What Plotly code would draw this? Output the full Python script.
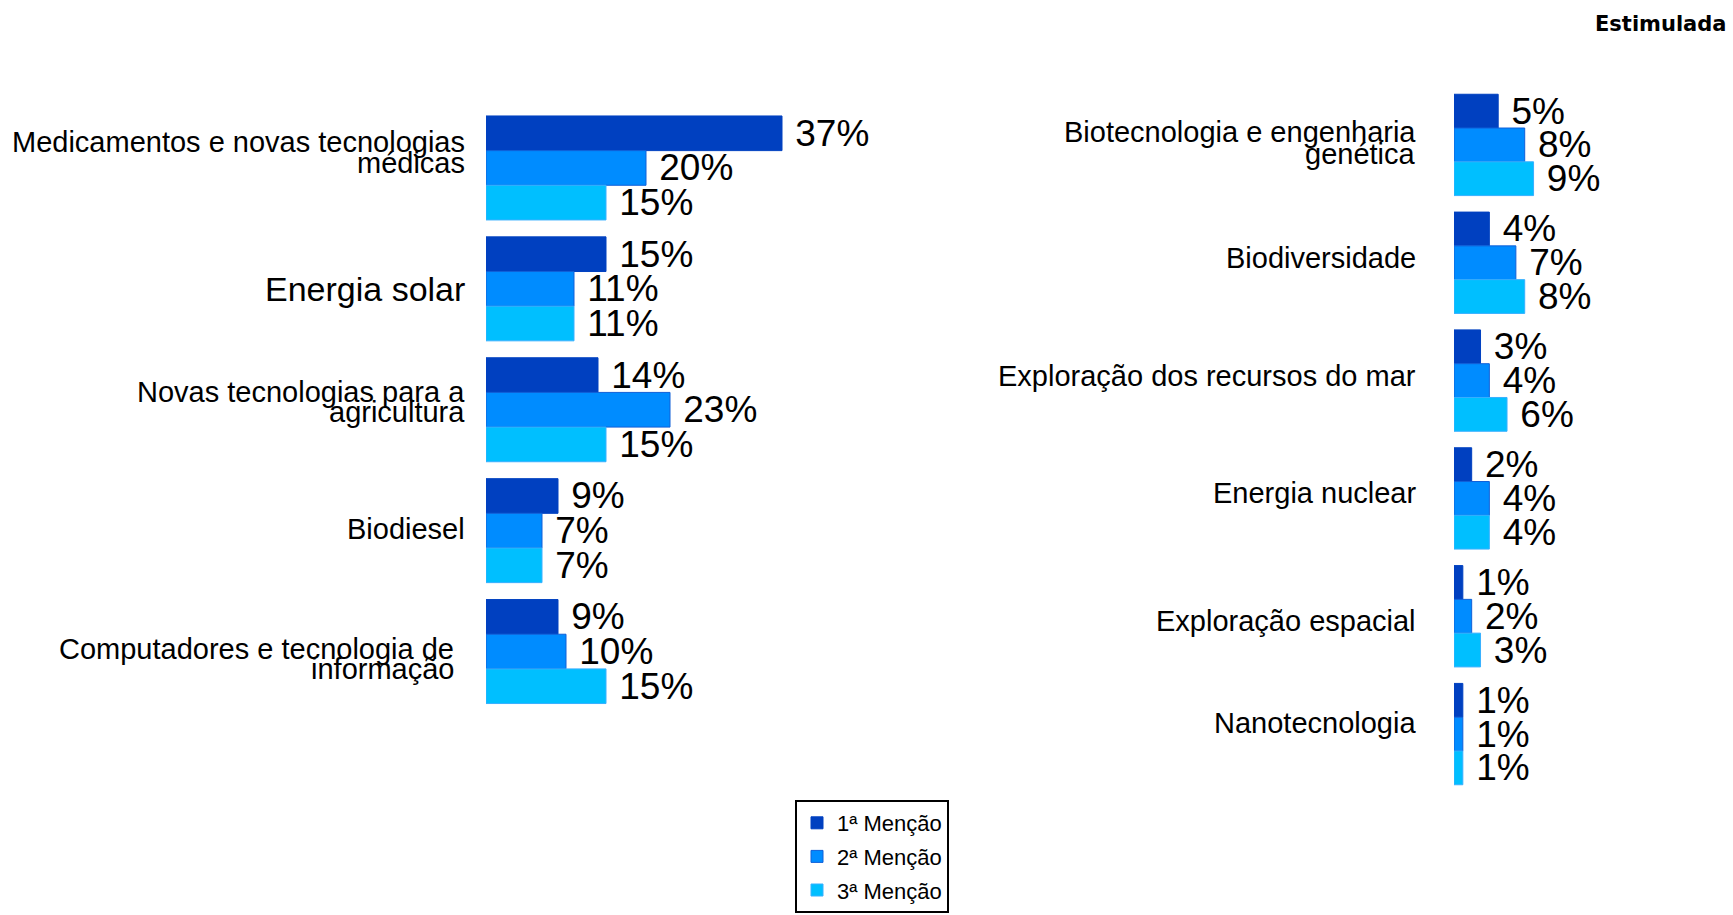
import plotly.graph_objects as go

# ---------------- data ----------------
series_names = ["1ª Menção", "2ª Menção", "3ª Menção"]

left_categories = [
    "Medicamentos e novas tecnologias médicas",
    "Energia solar",
    "Novas tecnologias para a agricultura",
    "Biodiesel",
    "Computadores e tecnologia de informação",
]
left_label_lines = [
    ["Medicamentos e novas tecnologias", "médicas"],
    ["Energia solar"],
    ["Novas tecnologias para a", "agricultura"],
    ["Biodiesel"],
    ["Computadores e tecnologia de", "informação"],
]
left_m1 = [37, 15, 14, 9, 9]
left_m2 = [20, 11, 23, 7, 10]
left_m3 = [15, 11, 15, 7, 15]

right_categories = [
    "Biotecnologia e engenharia genética",
    "Biodiversidade",
    "Exploração dos recursos do mar",
    "Energia nuclear",
    "Exploração espacial",
    "Nanotecnologia",
]
right_label_lines = [
    ["Biotecnologia e engenharia", "genética"],
    ["Biodiversidade"],
    ["Exploração dos recursos do mar"],
    ["Energia nuclear"],
    ["Exploração espacial"],
    ["Nanotecnologia"],
]
right_m1 = [5, 4, 3, 2, 1, 1]
right_m2 = [8, 7, 4, 4, 2, 1]
right_m3 = [9, 8, 6, 4, 3, 1]

title_text = "Estimulada"

# ---------------- style ----------------
W, H = 1733, 915
colors = ["#0040C0", "#008CFF", "#00BFFF"]
edge_colors = ["#0040C0", "#1060D8", "#38B0FF"]
pct_font = dict(family="Liberation Sans, Arial", size=37, color="black")
label_family = "Liberation Sans, Arial, sans-serif"

# per-line vertical shifts (px, up positive) for category labels
left_shifts = [[26, 5], [0], [18, -2], [2], [3, -17]]
left_sizes = [29, 34, 29, 29, 29]
left_label_x = [467, 467, 467, 467, 456]
right_shifts = [[13, -9], [5], [5], [5], [-5], [11]]
right_label_x = 1418

fig = go.Figure()

left_vals = [left_m1, left_m2, left_m3]
right_vals = [right_m1, right_m2, right_m3]

for i, name in enumerate(series_names):
    fig.add_trace(go.Bar(
        y=left_categories, x=left_vals[i], orientation="h", name=name,
        marker=dict(color=colors[i], line=dict(color=edge_colors[i], width=1)),
        texttemplate=" %{x}%", textposition="outside", textfont=pct_font,
        constraintext="none", cliponaxis=False,
        xaxis="x", yaxis="y", legendgroup=name, showlegend=True,
        hoverinfo="skip",
    ))
for i, name in enumerate(series_names):
    fig.add_trace(go.Bar(
        y=right_categories, x=right_vals[i], orientation="h", name=name,
        marker=dict(color=colors[i], line=dict(color=edge_colors[i], width=1)),
        texttemplate=" %{x}%", textposition="outside", textfont=pct_font,
        constraintext="none", cliponaxis=False,
        xaxis="x2", yaxis="y2", legendgroup=name, showlegend=False,
        hoverinfo="skip",
    ))

annotations = []
for cat, lines, shifts, size, xr in zip(left_categories, left_label_lines, left_shifts, left_sizes, left_label_x):
    for line, sh in zip(lines, shifts):
        annotations.append(dict(
            text=line, x=xr / W, xref="paper", y=cat, yref="y",
            xanchor="right", yanchor="middle", yshift=sh, showarrow=False,
            font=dict(family=label_family, size=size, color="black"),
        ))
for cat, lines, shifts in zip(right_categories, right_label_lines, right_shifts):
    for line, sh in zip(lines, shifts):
        annotations.append(dict(
            text=line, x=right_label_x / W, xref="paper", y=cat, yref="y2",
            xanchor="right", yanchor="middle", yshift=sh, showarrow=False,
            font=dict(family=label_family, size=29, color="black"),
        ))
annotations.append(dict(
    text="<b>" + title_text + "</b>", x=1729 / W, xref="paper", y=1 - 24 / H, yref="paper",
    xanchor="right", yanchor="middle", showarrow=False,
    font=dict(family="DejaVu Sans, Verdana, sans-serif", size=21, color="black"),
))

hidden = dict(showgrid=False, zeroline=False, showticklabels=False, ticks="", showline=False)

fig.update_layout(
    width=W, height=H,
    margin=dict(l=0, r=0, t=0, b=0),
    paper_bgcolor="white", plot_bgcolor="white",
    barmode="group", bargap=0.14, bargroupgap=0,
    xaxis=dict(domain=[486 / W, (486 + 400) / W], range=[0, 50], **hidden),
    xaxis2=dict(domain=[1454 / W, (1454 + 274) / W], range=[0, 31], anchor="y2", **hidden),
    yaxis=dict(domain=[1 - 712 / H, 1 - 107.5 / H], range=[4.5, -0.5], type="category", **hidden),
    yaxis2=dict(domain=[1 - 793 / H, 1 - 86 / H], range=[5.5, -0.5], type="category", anchor="x2", **hidden),
    annotations=annotations,
    showlegend=True,
    legend=dict(
        x=795 / W, xanchor="left", y=1 - 800 / H, yanchor="top",
        bordercolor="black", borderwidth=2, bgcolor="white",
        font=dict(family="Liberation Sans, Arial, sans-serif", size=22, color="black"),
        traceorder="grouped", tracegroupgap=2, itemwidth=30,
    ),
)

fig.write_html(
    "out.html",
    config={"displayModeBar": False},
    post_script="document.body.style.margin='0';document.body.style.overflow='hidden';",
)
